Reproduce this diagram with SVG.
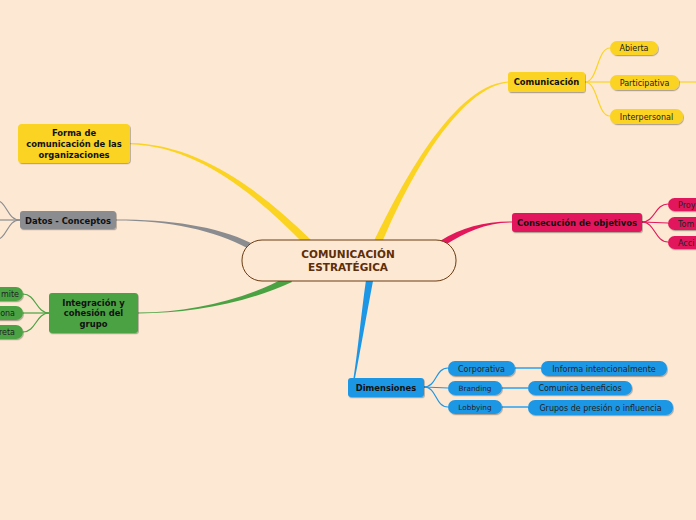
<svg xmlns="http://www.w3.org/2000/svg" width="696" height="520" viewBox="0 0 696 520">
<defs>
<filter id="sh" x="-10%" y="-20%" width="120%" height="160%">
<feDropShadow dx="0.8" dy="1.2" stdDeviation="0.6" flood-color="#000" flood-opacity="0.3"/>
</filter>
</defs>
<style>
.t{font-family:"DejaVu Sans",Verdana,sans-serif;font-size:8.4px;fill:#111;text-anchor:middle}
.b{font-weight:bold}
.s{font-family:"DejaVu Sans",Verdana,sans-serif;font-size:8px;fill:#222;text-anchor:middle}
.y{fill:#fbd321}
.p{fill:#e2185b}
.g{fill:#8b8c90}
.gr{fill:#4ba243}
.bl{fill:#1d97e5}
.ln{fill:none;stroke-width:1.2}
</style>
<rect width="696" height="520" fill="#fde8d3"/>
<g id="connectors">
<path d="M130,143 C200,144 262,192 311,240 L305,245 C258,197 199,146 130,144.3 Z" fill="#fbd321"/>
<path d="M508,81.5 C449,85 393,203 374,241 L382,243 C397,206 451,89 508,82.5 Z" fill="#fbd321"/>
<path d="M512,221.5 C485,221.5 462,227 440,241 L445,245 C466,232 486,222.5 512,222.5 Z" fill="#e2185b"/>
<path d="M116,219.5 C170,219.5 216,226 251,243 L249,249 C214,230 170,220.5 116,220.5 Z" fill="#8b8c90"/>
<path d="M138,312.5 C190,312.5 245,300 288,276 L292,282 C247,303 190,313.5 138,313.5 Z" fill="#4ba243"/>
<path d="M353.5,378 C358,350 361,315 366,280 L373,281 C366,318 360,352 355,378 Z" fill="#1d97e5"/>
<g class="ln" stroke="#fbd321">
<path d="M585,82 C598,82 597,48 610,48"/>
<path d="M585,82 L610,82"/>
<path d="M585,82 C598,82 597,116 610,116"/>
<path d="M679,82 L696,82"/>
</g>
<g class="ln" stroke="#e2185b">
<path d="M642,222 C655,222 655,204 668,204"/>
<path d="M642,222 L668,223"/>
<path d="M642,222 C655,222 655,242 668,242"/>
</g>
<g class="ln" stroke="#8b8c90">
<path d="M20,220 C6,220 8,200 -6,200"/>
<path d="M20,220 L-6,220"/>
<path d="M20,220 C6,220 8,240 -6,240"/>
</g>
<g class="ln" stroke="#4ba243">
<path d="M49,313 C36,313 36,294 23,294"/>
<path d="M49,313 L23,313"/>
<path d="M49,313 C36,313 36,332 23,332"/>
</g>
<g class="ln" stroke="#1d97e5">
<path d="M424,387 C437,387 435,368 448,368"/>
<path d="M424,387 L448,388"/>
<path d="M424,387 C437,387 435,407 448,407"/>
</g>
<g fill="none" stroke="#5eb3ea" stroke-width="2">
<path d="M515,368 L541,368"/>
<path d="M502,388 L528,388"/>
<path d="M502,407 L528,407"/>
</g>
</g>
<g id="center">
<rect x="242" y="240" width="214" height="41" rx="20" fill="#fde8d3" stroke="#6b3a10" stroke-width="1"/>
<text class="t b" x="348" y="258" style="font-size:10.5px;fill:#5c2e0a">COMUNICACIÓN</text>
<text class="t b" x="348" y="271" style="font-size:10.5px;fill:#5c2e0a">ESTRATÉGICA</text>
</g>
<g id="forma">
<rect x="18" y="124" width="112" height="39" rx="4" class="y" filter="url(#sh)"/>
<text class="t b" x="74" y="136">Forma de</text>
<text class="t b" x="74" y="147">comunicación de las</text>
<text class="t b" x="74" y="158">organizaciones</text>
</g>
<g id="datos">
<rect x="20" y="211" width="96" height="18" rx="3" class="g" filter="url(#sh)"/>
<text class="t b" x="68" y="223.5">Datos - Conceptos</text>
</g>
<g id="integracion">
<rect x="49" y="293" width="89" height="40" rx="3" class="gr" filter="url(#sh)"/>
<text class="t b" x="93.5" y="305.5">Integración y</text>
<text class="t b" x="93.5" y="316">cohesión del</text>
<text class="t b" x="93.5" y="327">grupo</text>
</g>
<g id="int-c1"><rect x="-12" y="287" width="35" height="14" rx="7" class="gr" filter="url(#sh)"/><text class="s" x="19" y="297" style="text-anchor:end">mite</text></g>
<g id="int-c2"><rect x="-12" y="306" width="35" height="14" rx="7" class="gr" filter="url(#sh)"/><text class="s" x="15" y="316" style="text-anchor:end">ona</text></g>
<g id="int-c3"><rect x="-12" y="325" width="35" height="14" rx="7" class="gr" filter="url(#sh)"/><text class="s" x="15" y="335" style="text-anchor:end">reta</text></g>
<g id="comunicacion">
<rect x="508" y="72" width="77" height="20" rx="3" class="y" filter="url(#sh)"/>
<text class="t b" x="546.5" y="85">Comunicación</text>
</g>
<g id="abierta"><rect x="610" y="41" width="48" height="14" rx="7" class="y" filter="url(#sh)"/><text class="s" x="634" y="51">Abierta</text></g>
<g id="participativa"><rect x="610" y="75" width="69" height="15" rx="7" class="y" filter="url(#sh)"/><text class="s" x="644.5" y="85.5">Participativa</text></g>
<g id="interpersonal"><rect x="610" y="109" width="73" height="15" rx="7" class="y" filter="url(#sh)"/><text class="s" x="646.5" y="119.5">Interpersonal</text></g>
<g id="consecucion">
<rect x="512" y="213" width="130" height="19" rx="3" class="p" filter="url(#sh)"/>
<text class="t b" x="577" y="225.5">Consecución de objetivos</text>
</g>
<g id="proy"><rect x="668" y="198" width="40" height="13" rx="6.5" class="p" filter="url(#sh)"/><text class="s" x="678" y="207.5" style="text-anchor:start">Proy</text></g>
<g id="tom"><rect x="668" y="217" width="40" height="13" rx="6.5" class="p" filter="url(#sh)"/><text class="s" x="678" y="226.5" style="text-anchor:start">Tom</text></g>
<g id="acci"><rect x="668" y="236" width="40" height="13" rx="6.5" class="p" filter="url(#sh)"/><text class="s" x="678" y="245.5" style="text-anchor:start">Acci</text></g>
<g id="dimensiones">
<rect x="348" y="378" width="76" height="19" rx="3" class="bl" filter="url(#sh)"/>
<text class="t b" x="386" y="390.5">Dimensiones</text>
</g>
<g id="corporativa"><rect x="448" y="361" width="67" height="15" rx="7" class="bl" filter="url(#sh)"/><text class="s" x="481.5" y="371.5">Corporativa</text></g>
<g id="branding"><rect x="448" y="381" width="54" height="14" rx="7" class="bl" filter="url(#sh)"/><text class="s" x="475" y="391" style="font-size:7.3px">Branding</text></g>
<g id="lobbying"><rect x="448" y="400" width="54" height="14" rx="7" class="bl" filter="url(#sh)"/><text class="s" x="475" y="410" style="font-size:7.3px">Lobbying</text></g>
<g id="informa"><rect x="541" y="361" width="126" height="15" rx="7" class="bl" filter="url(#sh)"/><text class="s" x="604" y="371.5">Informa intencionalmente</text></g>
<g id="comunica"><rect x="528" y="381" width="104" height="14" rx="7" class="bl" filter="url(#sh)"/><text class="s" x="580" y="391">Comunica beneficios</text></g>
<g id="grupos"><rect x="528" y="400" width="145" height="15" rx="7" class="bl" filter="url(#sh)"/><text class="s" x="600.5" y="410.5">Grupos de presión o influencia</text></g>
</svg>
